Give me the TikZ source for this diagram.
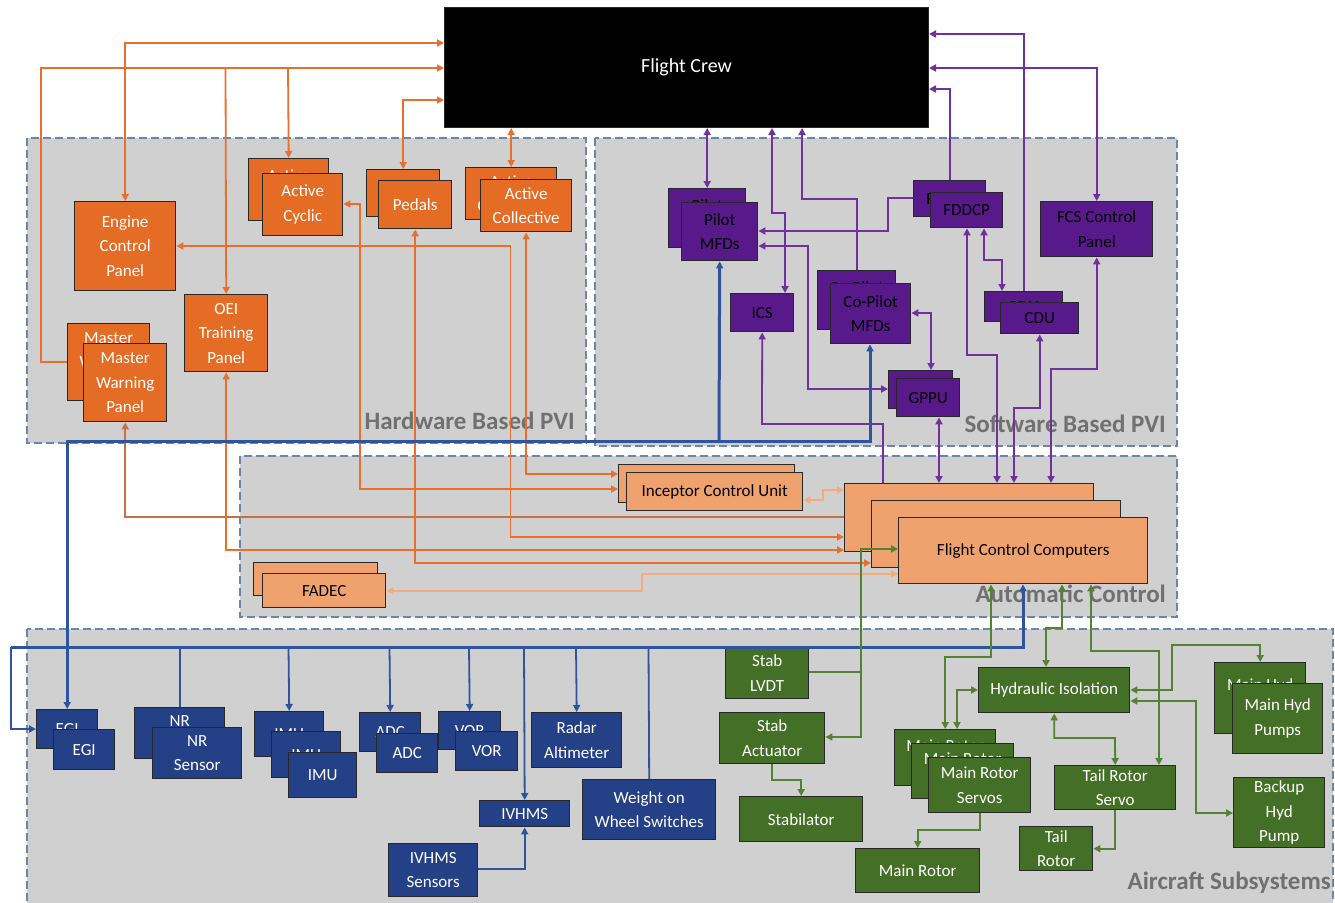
\documentclass[tikz,border=0pt]{standalone}
\usepackage{fontspec}
\setmainfont{Carlito}
\usetikzlibrary{arrows.meta}

\definecolor{orF}{RGB}{229,108,36}
\definecolor{puF}{RGB}{88,26,138}
\definecolor{blF}{RGB}{36,64,135}
\definecolor{grF}{RGB}{67,112,38}
\definecolor{saF}{RGB}{240,162,110}
\definecolor{grpF}{RGB}{208,208,208}
\definecolor{grpD}{RGB}{105,135,170}
\definecolor{lnO}{RGB}{232,112,44}
\definecolor{lnOb}{RGB}{198,112,74}
\definecolor{lnL}{RGB}{244,172,124}
\definecolor{lnP}{RGB}{112,48,160}
\definecolor{lnB}{RGB}{47,84,158}
\definecolor{lnG}{RGB}{84,130,53}
\definecolor{lblC}{RGB}{112,112,112}
\definecolor{edgeC}{RGB}{40,40,40}

% box from pixel corners (x1,y1) to (x2,y2)
\newcommand{\bx}[7]{\node[#1,anchor=north west,minimum width={(#4-#2)*1pt},minimum height={(#5-#3)*1pt}] (#6) at (#2,#3) {#7};}

\begin{document}
\begin{tikzpicture}[x=1pt,y=-1pt,
  >={Triangle[length=7pt,width=7pt]},
  base/.style={rectangle,draw=edgeC,line width=1.4pt,inner sep=0pt,align=center,
    font=\fontsize{17}{24.5}\selectfont},
  obox/.style={base,fill=orF,text=white},
  pbox/.style={base,fill=puF,text=black},
  bbox/.style={base,fill=blF,text=white},
  gbox/.style={base,fill=grF,text=white},
  sbox/.style={base,fill=saF,text=black},
  group/.style={fill=grpF,draw=grpD,line width=1.5pt,dash pattern=on 8pt off 4pt},
  grouplabel/.style={text=lblC,font=\fontsize{25}{28}\selectfont\bfseries,inner sep=0pt},
  oc/.style={draw=lnO,line width=1.8pt},
  ocb/.style={draw=lnOb,line width=1.8pt},
  lc/.style={draw=lnL,line width=1.8pt},
  pc/.style={draw=lnP,line width=1.8pt},
  bc/.style={draw=lnB,line width=1.8pt},
  bw/.style={draw=lnB,line width=3pt},
  gc/.style={draw=lnG,line width=1.8pt}]

\useasboundingbox (0,0) rectangle (1335,902);
\fill[white] (0,0) rectangle (1335,902);

% ---- groups ----
\draw[group] (27,138) rectangle (586,443);
\draw[group] (595,138) rectangle (1177,446);
\draw[group] (240,456) rectangle (1177,617);
\draw[group] (27,629) rectangle (1333,915);

\node[grouplabel,anchor=base east] (lhw) at (575,429) {Hardware Based PVI};
\node[grouplabel,anchor=base east] (lsw) at (1166,432) {Software Based PVI};
\node[grouplabel,anchor=base east] (lac) at (1166,602) {Automatic Control};
\node[grouplabel,anchor=base east] (las) at (1331,889) {Aircraft Subsystems};

% ---- flight crew ----
\node[rectangle,fill=black,draw=edgeC,line width=1pt,text=white,anchor=north west,
  minimum width=484pt,minimum height=120pt,font=\fontsize{20}{24}\selectfont] (fc) at (444,7) {Flight Crew};

% ---- hardware based PVI ----
\bx{obox}{74}{201}{175}{290}{ecp}{Engine\\Control\\Panel}
\bx{obox}{248}{158}{328}{220}{acb}{Active\\Cyclic}
\bx{obox}{262}{173}{342}{235}{acf}{Active\\Cyclic}
\bx{obox}{366}{169}{439}{216}{pdb}{Pedals}
\bx{obox}{378}{180}{451}{228}{pdf}{Pedals}
\bx{obox}{465}{167}{556}{219}{acob}{Active\\Collective}
\bx{obox}{480}{179}{571}{231}{acof}{Active\\Collective}
\bx{obox}{184}{294}{267}{371}{oei}{OEI\\Training\\Panel}
\bx{obox}{67}{323}{149}{400}{mwb}{Master\\Warning\\Panel}
\bx{obox}{83}{343}{166}{421}{mwf}{Master\\Warning\\Panel}

% ---- software based PVI ----
\bx{pbox}{668}{188}{745}{247}{pmb}{Pilot\\MFDs}
\bx{pbox}{681}{202}{757}{260}{pmf}{Pilot\\MFDs}
\bx{pbox}{913}{180}{985}{216}{fdb}{FDDCP}
\bx{pbox}{930}{192}{1002}{227}{fdf}{FDDCP}
\bx{pbox}{1040}{201}{1152}{256}{fcs}{FCS Control\\Panel}
\bx{pbox}{730}{293}{793}{331}{ics}{ICS}
\bx{pbox}{817}{270}{895}{329}{cpb}{Co-Pilot\\MFDs}
\bx{pbox}{830}{283}{910}{343}{cpf}{Co-Pilot\\MFDs}
\bx{pbox}{888}{370}{952}{408}{gpb}{}
\bx{pbox}{896}{378}{959}{416}{gpf}{GPPU}
\bx{pbox}{984}{291}{1062}{321}{cdb}{CDU}
\bx{pbox}{1000}{302}{1078}{333}{cdf}{CDU}

% ---- automatic control ----
\bx{sbox}{618}{464}{794}{502}{icub}{}
\bx{sbox}{626}{472}{802}{510}{icuf}{Inceptor Control Unit}
\bx{sbox}{844}{483}{1093}{551}{fcc1}{}
\bx{sbox}{871}{500}{1120}{567}{fcc2}{}
\bx{sbox}{898}{517}{1147}{583}{fccf}{Flight Control Computers}
\bx{sbox}{253}{562}{377}{595}{fadb}{FADEC}
\bx{sbox}{262}{573}{385}{607}{fadf}{FADEC}

% ---- aircraft subsystems: sensors ----
\bx{bbox}{36}{709}{97}{748}{egb}{EGI}
\bx{bbox}{53}{729}{114}{769}{egf}{EGI}
\bx{bbox}{134}{707}{224}{758}{nrb}{NR\\Sensor}
\bx{bbox}{152}{727}{241}{778}{nrf}{NR\\Sensor}
\bx{bbox}{254}{711}{323}{756}{imb1}{IMU}
\bx{bbox}{271}{731}{340}{777}{imb2}{IMU}
\bx{bbox}{288}{752}{356}{797}{imf}{IMU}
\bx{bbox}{359}{712}{420}{751}{adb}{ADC}
\bx{bbox}{376}{733}{437}{772}{adf}{ADC}
\bx{bbox}{438}{711}{500}{749}{vob}{VOR}
\bx{bbox}{455}{731}{517}{770}{vof}{VOR}
\bx{bbox}{531}{712}{621}{767}{rad}{Radar\\Altimeter}
\bx{bbox}{479}{800}{569}{826}{ivh}{IVHMS}
\bx{bbox}{388}{843}{477}{896}{ivs}{IVHMS\\Sensors}
\bx{bbox}{582}{779}{715}{839}{wow}{Weight on\\Wheel Switches}

% ---- aircraft subsystems: actuation ----
\bx{gbox}{725}{647}{808}{698}{slv}{Stab\\LVDT}
\bx{gbox}{719}{712}{824}{763}{sac}{Stab\\Actuator}
\bx{gbox}{739}{796}{862}{841}{stb}{Stabilator}
\bx{gbox}{855}{848}{979}{892}{mr}{Main Rotor}
\bx{gbox}{978}{667}{1129}{712}{hyd}{Hydraulic Isolation}
\bx{gbox}{894}{729}{995}{785}{mrb1}{Main Rotor\\Servos}
\bx{gbox}{911}{743}{1013}{798}{mrb2}{Main Rotor\\Servos}
\bx{gbox}{928}{757}{1030}{812}{mrf}{Main Rotor\\Servos}
\bx{gbox}{1054}{765}{1175}{809}{trs}{Tail Rotor\\Servo}
\bx{gbox}{1019}{826}{1092}{870}{tr}{Tail\\Rotor}
\bx{gbox}{1214}{662}{1305}{733}{mhb}{Main Hyd\\Pumps}
\bx{gbox}{1232}{683}{1322}{753}{mhf}{Main Hyd\\Pumps}
\bx{gbox}{1233}{777}{1324}{847}{bhp}{Backup\\Hyd\\Pump}

% ---- orange: hardware PVI links ----
\draw[oc,<->] (ecp.north) |- (fc.west |- 0,43);
\draw[oc,->] (mwb.west |- 0,362) -| (41,68) -- (fc.west |- 0,68);
\draw[oc,->] (225.5,68) -- (oei.north);
\draw[oc,->] (288,68) -- (acb.north);
\draw[oc,<->] (pdb.north) |- (fc.west |- 0,100);
\draw[oc,<->] (fc.south -| acob.north) -- (acob.north);
\draw[oc,<->] (ecp.east |- 0,246) -| (510.5,537) -- (fcc1.west |- 0,537);
\draw[oc,<->] (acf.east |- 0,204) -| (360,489) -- (icub.west |- 0,489);
\draw[oc,<->] (acof.south) |- (icub.west |- 0,474);
\draw[ocb,->] (fcc1.west |- 0,517) -| (mwf.south);
\draw[oc,<->] (oei.south) |- (fcc1.west |- 0,550);
\draw[oc,<->] (pdf.south) |- (fcc2.west |- 0,563);
\draw[lc,<->] (icuf.east |- 0,500) -- (823,500) |- (fcc1.west |- 0,490);
\draw[lc,<->] (fccf.west |- 0,574) -- (642,574) |- (fadf.east);

% ---- purple: software PVI links ----
\draw[pc,<->] (pmb.north |- fc.south) -- (pmb.north);
\draw[pc,<->] (fc.south -| 772,0) -- (772,213) -| (ics.north -| 785,0);
\draw[pc,->] (cpb.north) |- (802,199) -- (fc.south -| 802,0);
\draw[pc,->] (fdb.west |- 0,198) -| (888,231) -- (pmf.east |- 0,231);
\draw[pc,<->] (pmf.east |- 0,246) -| (808,389) -- (gpb.west |- 0,389);
\draw[pc,->] (fdb.north) |- (fc.east |- 0,89);
\draw[pc,->] (cdb.north) |- (fc.east |- 0,34);
\draw[pc,<->] (fcs.north) |- (fc.east |- 0,68);
\draw[pc,<->] (fdf.south -| 967,0) |- (997,355) -- (fcc1.north -| 997,0);
\draw[pc,<->] (fdf.south -| 984,0) |- (1002,260) -- (cdb.north -| 1002,0);
\draw[pc,<->] (cdf.south) |- (1014,408) -- (fcc1.north -| 1014,0);
\draw[pc,<->] (fcs.south) |- (1051,369) -- (fcc1.north -| 1051,0);
\draw[pc,<->] (cpf.east |- 0,313) -| (gpb.north -| 931,0);
\draw[pc,<->] (gpf.south -| 939,0) -- (fcc1.north -| 939,0);
\draw[pc,->] (fcc1.north -| 883,0) |- (762,424) -- (ics.south);

% ---- blue: sensor links ----
\draw[bw,<->] (egb.north) |- (870,441) -- (cpf.south -| 870,0);
\draw[bw,->] (719,441) -- (pmf.south);
\draw[bc,->] (11,647) |- (egb.west |- 0,729);
\draw[bw,->] (11,647) -| (fccf.south -| 1023,0);
\draw[bc] (nrb.north) -- (nrb.north |- 0,647);
\draw[bc,->] (288.5,647) -- (imb1.north);
\draw[bc,->] (389.5,647) -- (adb.north);
\draw[bc,->] (469,647) -- (vob.north);
\draw[bc,->] (524,647) -- (ivh.north);
\draw[bc,->] (576,647) -- (rad.north);
\draw[bc] (648.5,647) -- (wow.north);
\draw[bc,->] (ivs.east |- 0,869) -| (ivh.south);

% ---- green: actuation links ----
\draw[gc,->] (slv.east |- 0,672) -| (861,549) -- (fccf.west |- 0,549);
\draw[gc,->] (861,672) |- (sac.east |- 0,737);
\draw[gc,->] (sac.south) |- (stb.north |- 0,780) -- (stb.north);
\draw[gc,<->] (fccf.south -| 991,0) |- (mrb1.north |- 0,657) -- (mrb1.north);
\draw[gc,<->] (fccf.south -| 1062,0) |- (1046,628) -- (hyd.north -| 1046,0);
\draw[gc,<->] (fccf.south -| 1091,0) |- (1159,651) -- (trs.north -| 1159,0);
\draw[gc,<->] (mrb1.north -| 957,0) |- (hyd.west |- 0,690);
\draw[gc,<->] (hyd.east |- 0,690) -| (1172,645) -| (mhb.north);
\draw[gc,<->] (hyd.east |- 0,701) -| (1196,813) -- (bhp.west |- 0,813);
\draw[gc,<->] (hyd.south) |- (1115,738) -- (trs.north);
\draw[gc,->] (trs.south) |- (tr.east);
\draw[gc,->] (mrf.south) |- (mr.north |- 0,830) -- (mr.north);

\end{tikzpicture}
\end{document}
